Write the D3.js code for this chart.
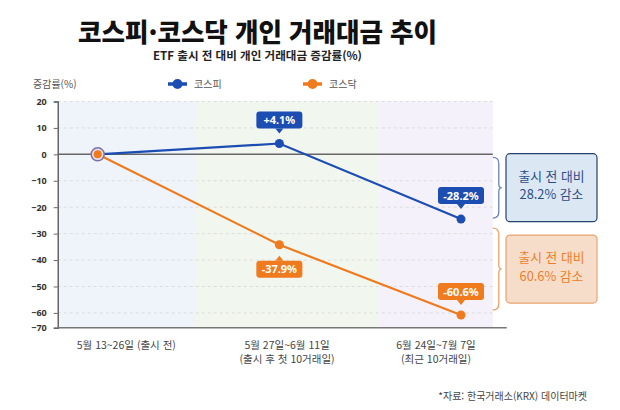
<!DOCTYPE html>
<html lang="ko">
<head>
<meta charset="utf-8">
<script src="https://cdn.jsdelivr.net/npm/d3@7"></script>
<style>
  html, body { margin: 0; padding: 0; background: #fff; }
  svg { display: block; font-family: "Noto Sans CJK KR", "Noto Sans", sans-serif; }
</style>
</head>
<body>
<svg width="620" height="410"></svg>
<script>
// data
const periods = ["5월 13~26일 (출시 전)", "5월 27일~6월 11일", "6월 24일~7월 7일"];
const periodSub = ["", "(출시 후 첫 10거래일)", "(최근 10거래일)"];
const seriesNames = ["코스피", "코스닥"];
const kospi = [0, 4.1, -24.5];       // plotted positions as drawn
const kosdaq = [0, -34.2, -60.8];
const kospiLabels = ["", "+4.1%", "-28.2%"];
const kosdaqLabels = ["", "-37.9%", "-60.6%"];
const kospiLabelSide = [0, -1, -1];  // -1 above point, 1 below
const kosdaqLabelSide = [0, 1, -1];
const yTicks = [20, 10, 0, -10, -20, -30, -40, -50, -60, -70];
const notes = [["출시 전 대비", "28.2% 감소"], ["출시 전 대비", "60.6% 감소"]];

const colors = { kospi: "#1b4db3", kosdaq: "#f07a1e" };
const bandFill = ["#eff3fa", "#f1f6ee", "#f4f1fa"];
const bandEdges = [-0.22, 0.535, 1.55, 2.175]; // in period-index units

var svg = d3.select("svg");

var xi = d3.scaleLinear().domain([0, 2]).range([97.7, 461]);
var y = d3.scaleLinear().domain([-65.6, 20]).range([327.7, 101.5]).clamp(true);

var left = xi(bandEdges[0]), right = xi(bandEdges[3]);

// title
svg.append("text")
  .attr("x", 257.5).attr("y", 41.5)
  .attr("text-anchor", "middle")
  .attr("textLength", 359).attr("lengthAdjust", "spacingAndGlyphs")
  .style("font-size", "26px").style("font-weight", 900).style("fill", "#111")
  .text("코스피·코스닥 개인 거래대금 추이");

svg.append("text")
  .attr("x", 257.5).attr("y", 60)
  .attr("text-anchor", "middle")
  .attr("textLength", 209).attr("lengthAdjust", "spacingAndGlyphs")
  .style("font-size", "11px").style("font-weight", 700).style("fill", "#222")
  .text("ETF 출시 전 대비 개인 거래대금 증감률(%)");

// legend
svg.append("text")
  .attr("x", 33).attr("y", 88)
  .style("font-size", "10px").style("fill", "#555")
  .text("증감률(%)");

var legend = svg.selectAll(".legend")
  .data(seriesNames)
  .enter().append("g")
  .attr("class", "legend")
  .attr("transform", (d, i) => `translate(${[168, 303][i]},84)`);
legend.append("line")
  .attr("x1", 0).attr("x2", 19)
  .attr("stroke", (d, i) => i ? colors.kosdaq : colors.kospi)
  .attr("stroke-width", 3.5);
legend.append("circle")
  .attr("cx", 9.5).attr("r", 5)
  .attr("fill", (d, i) => i ? colors.kosdaq : colors.kospi);
legend.append("text")
  .attr("x", 26).attr("y", 4)
  .style("font-size", "10px").style("fill", "#555")
  .text(d => d);

// background bands
svg.selectAll(".band")
  .data(bandFill)
  .enter().append("rect")
  .attr("class", "band")
  .attr("x", (d, i) => xi(bandEdges[i]))
  .attr("width", (d, i) => xi(bandEdges[i + 1]) - xi(bandEdges[i]))
  .attr("y", y(20))
  .attr("height", y(-70) - y(20))
  .attr("fill", d => d);

// grid
svg.selectAll(".grid")
  .data(yTicks.filter(d => d !== 0 && d !== -70))
  .enter().append("line")
  .attr("class", "grid")
  .attr("x1", left).attr("x2", right)
  .attr("y1", d => y(d)).attr("y2", d => y(d))
  .attr("stroke", "#dcdcdc").attr("stroke-dasharray", "3,3");

svg.append("line")
  .attr("x1", left).attr("x2", right)
  .attr("y1", y(0)).attr("y2", y(0))
  .attr("stroke", "#666").attr("stroke-width", 1.5);

// y axis
var yAxis = svg.append("g")
  .attr("transform", `translate(${left},0)`)
  .call(d3.axisLeft(y).tickValues(yTicks).tickSize(4).tickPadding(7).tickFormat(d => d < 0 ? "−" + (-d) : d));
yAxis.select(".domain").attr("stroke", "#666").attr("stroke-width", 1.5);
yAxis.selectAll(".tick line").attr("stroke", "#666");
yAxis.selectAll(".tick text")
  .style("font-family", "'Noto Sans', sans-serif")
  .style("font-size", "9px").style("font-weight", 700).style("fill", "#333");

// bottom axis line
svg.append("line")
  .attr("x1", left).attr("x2", right + 14)
  .attr("y1", y(-70)).attr("y2", y(-70))
  .attr("stroke", "#777").attr("stroke-width", 1.5);

// x labels at band middles
var bandMid = i => (xi(bandEdges[i]) + xi(bandEdges[i + 1])) / 2;

svg.selectAll(".xlabel")
  .data(periods)
  .enter().append("text")
  .attr("class", "xlabel")
  .attr("x", (d, i) => bandMid(i))
  .attr("y", 349)
  .attr("text-anchor", "middle")
  .style("font-size", "10.5px").style("fill", "#444")
  .text(d => d);

svg.selectAll(".xsub")
  .data(periodSub)
  .enter().append("text")
  .attr("class", "xsub")
  .attr("x", (d, i) => bandMid(i))
  .attr("y", 363)
  .attr("text-anchor", "middle")
  .style("font-size", "10.5px").style("fill", "#444")
  .text(d => d);

// lines
var line = d3.line().x((d, i) => xi(i)).y(d => y(d));

[[kosdaq, colors.kosdaq], [kospi, colors.kospi]].forEach(([vals, c]) => {
  svg.append("path")
    .datum(vals)
    .attr("d", line)
    .attr("fill", "none")
    .attr("stroke", c)
    .attr("stroke-width", 2.2);
});

// points
[[kospi, colors.kospi], [kosdaq, colors.kosdaq]].forEach(([vals, c]) => {
  svg.selectAll(null)
    .data(vals.slice(1))
    .enter().append("circle")
    .attr("cx", (d, i) => xi(i + 1))
    .attr("cy", d => y(d))
    .attr("r", 4.5)
    .attr("fill", c);
});

// shared starting point
svg.append("circle")
  .attr("cx", xi(0)).attr("cy", y(kospi[0]))
  .attr("r", 6.5)
  .attr("fill", "#eadde4").attr("stroke", "#7b72aa").attr("stroke-width", 1.5);
svg.append("circle")
  .attr("cx", xi(0)).attr("cy", y(kosdaq[0]))
  .attr("r", 4)
  .attr("fill", colors.kosdaq);

// callout labels
function callouts(vals, labels, sides, c) {
  vals.forEach((v, i) => {
    if (!labels[i]) return;
    var px = xi(i), py = y(v);
    var side = sides[i];
    var w = 46, h = 17;
    var by = side < 0 ? py - 15 - h : py + 16;
    var g = svg.append("g");
    g.append("rect")
      .attr("x", px - w / 2).attr("y", by)
      .attr("width", w).attr("height", h)
      .attr("rx", 3)
      .attr("fill", c);
    var ty = side < 0 ? by + h : by;
    g.append("path")
      .attr("d", `M${px - 4},${ty} L${px},${ty - side * 5} L${px + 4},${ty} Z`)
      .attr("fill", c);
    g.append("text")
      .attr("x", px).attr("y", by + 12.5)
      .attr("text-anchor", "middle")
      .style("font-family", "'Noto Sans', sans-serif")
      .style("font-size", "11px").style("font-weight", 700).style("fill", "#fff")
      .text(labels[i]);
  });
}
callouts(kospi, kospiLabels, kospiLabelSide, colors.kospi);
callouts(kosdaq, kosdaqLabels, kosdaqLabelSide, colors.kosdaq);

// brackets + note boxes
var brackets = [
  { top: y(0) + 3, bottom: y(kospi[2]) - 1, stroke: "#6b84b8", box: "#dce7f4", boxStroke: "#23426f", text: "#2a4c86" },
  { top: y(kospi[2]) + 9, bottom: y(kosdaq[2]) - 5, stroke: "#f0a26a", box: "#f6ddca", boxStroke: "#e9a46f", text: "#ee7d2a" }
];

brackets.forEach((b, i) => {
  var mid = (b.top + b.bottom) / 2;
  var x0 = right, x1 = right + 6;
  svg.append("path")
    .attr("d", `M${x0},${b.top} Q${x1},${b.top} ${x1},${b.top + 6} L${x1},${mid - 4} Q${x1},${mid} ${x1 + 3},${mid} Q${x1},${mid} ${x1},${mid + 4} L${x1},${b.bottom - 6} Q${x1},${b.bottom} ${x0},${b.bottom}`)
    .attr("fill", "none")
    .attr("stroke", b.stroke)
    .attr("stroke-width", 1.3);
  svg.append("rect")
    .attr("x", 506).attr("y", mid - 34)
    .attr("width", 91).attr("height", 68)
    .attr("rx", 4)
    .attr("fill", b.box)
    .attr("stroke", b.boxStroke)
    .attr("stroke-width", 1.2);
  svg.append("text")
    .attr("x", 551.5).attr("y", mid - 7)
    .attr("text-anchor", "middle")
    .style("font-size", "12.8px").style("fill", b.text)
    .text(notes[i][0]);
  svg.append("text")
    .attr("x", 551.5).attr("y", mid + 11.5)
    .attr("text-anchor", "middle")
    .style("font-size", "12.8px").style("fill", b.text)
    .text(notes[i][1]);
});

// source
svg.append("text")
  .attr("x", 587).attr("y", 400)
  .attr("text-anchor", "end")
  .style("font-size", "10px").style("fill", "#444")
  .text("*자료: 한국거래소(KRX) 데이터마켓");
</script>
</body>
</html>
